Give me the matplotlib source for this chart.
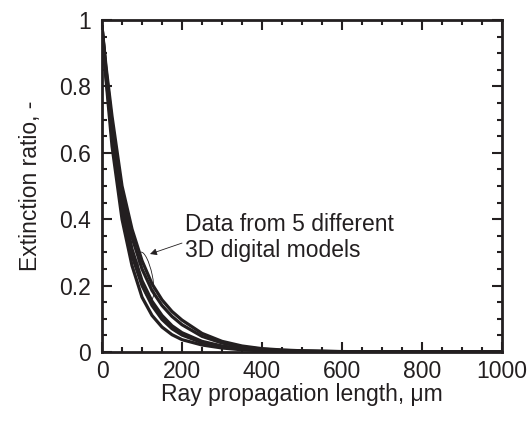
import matplotlib
matplotlib.use("Agg")
import matplotlib.pyplot as plt
import matplotlib.transforms as mtransforms
from matplotlib.patches import Ellipse

plt.rcParams['font.family'] = ['Liberation Sans', 'DejaVu Sans']

# ray propagation length (um) and extinction ratio of 5 models
length = [0, 10, 25, 50, 75, 100, 125, 150, 175, 200, 250, 300, 350, 400,
          450, 500, 600, 700, 800, 900, 1000]
model_1 = [0.97, 0.82, 0.62, 0.40, 0.26, 0.165, 0.11, 0.075, 0.052, 0.037,
           0.021, 0.012, 0.0065, 0.0035, 0.002, 0.001, 0.0003, 0, 0, 0, 0]
model_2 = [0.97, 0.83, 0.65, 0.43, 0.29, 0.20, 0.14, 0.098, 0.070, 0.051,
           0.028, 0.016, 0.009, 0.005, 0.003, 0.0015, 0.0005, 0.0001, 0, 0, 0]
model_3 = [0.98, 0.84, 0.67, 0.45, 0.31, 0.215, 0.153, 0.11, 0.079, 0.058,
           0.032, 0.018, 0.010, 0.006, 0.0035, 0.002, 0.0006, 0.0002, 0, 0, 0]
model_4 = [0.98, 0.85, 0.69, 0.48, 0.345, 0.25, 0.185, 0.140, 0.107, 0.082,
           0.047, 0.027, 0.015, 0.0085, 0.005, 0.0028, 0.0009, 0.0002, 0, 0, 0]
model_5 = [0.98, 0.86, 0.71, 0.50, 0.37, 0.275, 0.205, 0.157, 0.122, 0.096,
           0.056, 0.032, 0.018, 0.010, 0.006, 0.0035, 0.0012, 0.0003, 0, 0, 0]
models = [model_1, model_2, model_3, model_4, model_5]

xticks = [0, 200, 400, 600, 800, 1000]
yticks = [0, 0.2, 0.4, 0.6, 0.8, 1]
ytick_labels = ['0', '0.2', '0.4', '0.6', '0.8', '1']

fig = plt.figure(figsize=(5.3, 4.21), dpi=100)
ax = fig.add_axes([0.1925, 0.164, 0.7545, 0.7885])

for m in models:
    ax.plot(length, m, color='#231f20', lw=2.3, solid_joinstyle='round')

ax.set_xlim(0, 1000)
ax.set_ylim(0, 1)
ax.set_xticks(xticks)
ax.set_xticklabels([str(t) for t in xticks])
ax.set_xticks(range(0, 1001, 50), minor=True)
ax.set_yticks(yticks)
ax.set_yticklabels(ytick_labels)
ax.set_yticks([i * 0.05 for i in range(21)], minor=True)

ax.tick_params(which='both', direction='in', top=True, right=True,
               width=1.5, color='#231f20', labelsize=16.5, labelcolor='#231f20')
ax.tick_params(axis='y', which='major', length=7, pad=8)
ax.tick_params(axis='x', which='major', length=7, pad=6)
ax.tick_params(which='minor', length=3.6)
for s in ax.spines.values():
    s.set_linewidth(2)
    s.set_color('#231f20')

ax.set_xlabel('Ray propagation length, μm', fontsize=16.5, color='#231f20', labelpad=0)
ax.set_ylabel('Extinction ratio, -', fontsize=16.5, color='#231f20', labelpad=12)

# ellipse around the curves, sized in points
etrans = (mtransforms.Affine2D().scale(1 / 72) + fig.dpi_scale_trans
          + mtransforms.ScaledTranslation(110, 0.229, ax.transData))
ax.add_patch(Ellipse((0, 0), width=9, height=35, angle=12, fill=False,
                     lw=0.6, color='#231f20', transform=etrans))

ax.annotate('', xy=(120, 0.295), xytext=(200, 0.328),
            arrowprops=dict(arrowstyle='-|>', lw=0.6, color='#231f20',
                            mutation_scale=10, shrinkA=0, shrinkB=0))
ax.text(207, 0.345, 'Data from 5 different\n3D digital models', fontsize=16.5,
        color='#231f20', va='center', ha='left', linespacing=1.2)

fig.savefig('out.png', dpi=100)
